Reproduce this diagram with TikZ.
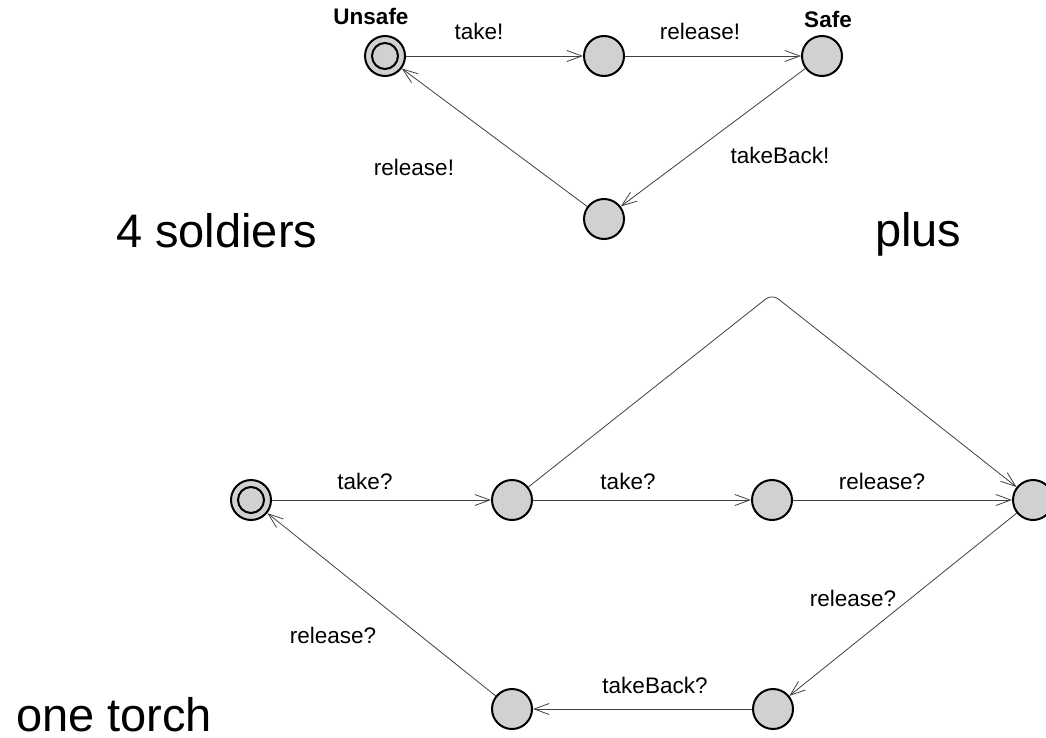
\documentclass[tikz,border=0pt]{standalone}
\usepackage{fontspec}
\setmainfont{Liberation Sans}
\usetikzlibrary{arrows.meta}
\begin{document}
\begin{tikzpicture}[x=1pt,y=-1pt,
  loc/.style={circle,draw=black,line width=2pt,fill=black!18,minimum size=40pt,inner sep=0pt},
  initring/.style={draw=black,line width=2pt},
  conn/.style={draw=black!75,line width=0.8pt,-{Straight Barb[length=15pt,width=11pt,line width=0.8pt]}},
  lbl/.style={anchor=base,inner sep=0pt,font=\fontsize{22.5}{27}\selectfont},
  locname/.style={anchor=base,inner sep=0pt,font=\fontsize{22.5}{27}\selectfont\bfseries},
  bigtext/.style={anchor=base west,inner sep=0pt,font=\fontsize{47}{56}\selectfont}]
\useasboundingbox (0,0) rectangle (1046,738);

% soldier automaton
\node[loc] (su) at (385,56) {};
\draw[initring] (su.center) circle[radius=13pt];
\node[loc] (sm) at (604,56) {};
\node[loc] (ss) at (822,56) {};
\node[loc] (sb) at (604,219) {};
\node[locname] (tu) at (371,25) {Unsafe};
\node[locname] (ts) at (828,28) {Safe};
\draw[conn] (su) -- (sm);
\draw[conn] (sm) -- (ss);
\draw[conn] (ss) -- (sb);
\draw[conn] (sb) -- (su);
\node[lbl] (l1) at (479,40) {take!};
\node[lbl] (l2) at (700,40) {release!};
\node[lbl] (l3) at (780,164) {takeBack!};
\node[lbl] (l4) at (414,176) {release!};

\node[bigtext] (t1) at (116,247) {4 soldiers};
\node[bigtext] (t2) at (875,246) {plus};
\node[bigtext] (t3) at (16,731) {one torch};

% torch automaton
\node[loc] (a) at (251,500) {};
\draw[initring] (a.center) circle[radius=13pt];
\node[loc] (b) at (512,500) {};
\node[loc] (c) at (772,500) {};
\node[loc] (d) at (1033,500) {};
\node[loc] (e) at (773,709) {};
\node[loc] (f) at (512,709) {};
\coordinate (top) at (772,294);
\draw[conn] (a) -- (b);
\draw[conn] (b) -- (c);
\draw[conn] (c) -- (d);
\draw[conn,rounded corners=8pt] (b) -- (top) -- (d);
\draw[conn] (d) -- (e);
\draw[conn] (e) -- (f);
\draw[conn] (f) -- (a);
\node[lbl] (m1) at (365,489) {take?};
\node[lbl] (m2) at (628,489) {take?};
\node[lbl] (m3) at (882,489) {release?};
\node[lbl] (m4) at (853,606) {release?};
\node[lbl] (m5) at (655,693) {takeBack?};
\node[lbl] (m6) at (333,643) {release?};
\end{tikzpicture}
\end{document}
